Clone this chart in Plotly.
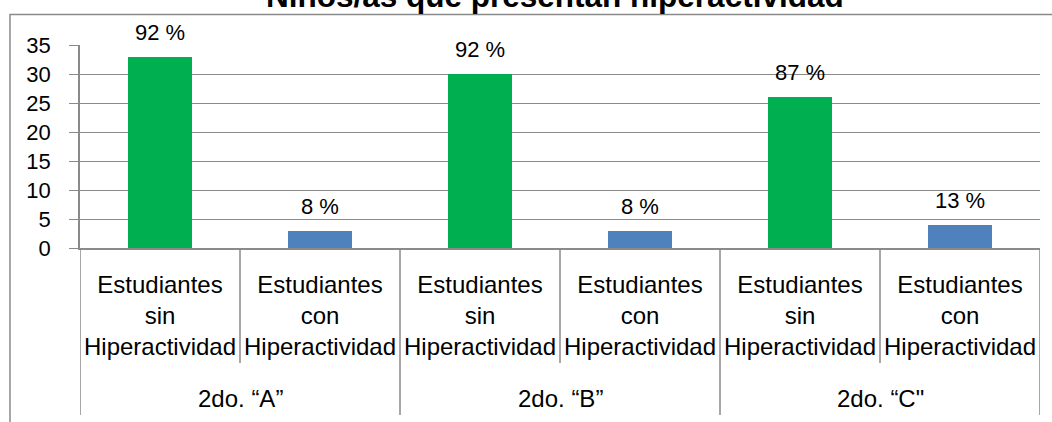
import plotly.graph_objects as go

# ---- data ----
groups = ["2do. \u201cA\u201d", "2do. \u201cB\u201d", "2do. \u201cC\""]
subcats = ["Estudiantes<br>sin<br>Hiperactividad", "Estudiantes<br>con<br>Hiperactividad"]
sin_values = [33, 30, 26]
con_values = [3, 3, 4]
sin_labels = ["92 %", "92 %", "87 %"]
con_labels = ["8 %", "8 %", "13 %"]
title_text = "Niños/as que presentan hiperactividad"
y_tickvals = [0, 5, 10, 15, 20, 25, 30, 35]

# ---- layout geometry ----
W, H = 1052, 422
L, R, T, B = 80, 12, 45, 174
PW, PH = W - L - R, H - T - B
FONT = "Liberation Sans, Arial, sans-serif"
GRID = "#8a8a8a"

def px_x(px):
    return (px - L) / PW

def px_y(py):
    return 1 - (py - T) / PH

n = len(groups)
x_sin = [2 * g for g in range(n)]
x_con = [2 * g + 1 for g in range(n)]
all_x = list(range(2 * n))
all_ticktext = [subcats[i % 2] for i in all_x]

fig = go.Figure()
fig.add_trace(go.Bar(x=x_sin, y=sin_values, width=0.4, marker=dict(color="#00B050", line=dict(width=0)),
                     showlegend=False, hoverinfo="skip"))
fig.add_trace(go.Bar(x=x_con, y=con_values, width=0.4, marker=dict(color="#4F81BD", line=dict(width=0)),
                     showlegend=False, hoverinfo="skip"))

annotations = []
for xs, vs, ls in [(x_sin, sin_values, sin_labels), (x_con, con_values, con_labels)]:
    for x, v, lab in zip(xs, vs, ls):
        annotations.append(dict(x=x, y=v, xref="x", yref="y", text=lab, showarrow=False,
                                yanchor="bottom", yshift=10,
                                font=dict(family=FONT, size=22, color="black")))

for g, name in enumerate(groups):
    annotations.append(dict(x=2 * g + 0.5, y=px_y(398), xref="x", yref="paper", text=name,
                            showarrow=False, yanchor="middle",
                            font=dict(family=FONT, size=24, color="black")))

annotations.append(dict(x=px_x(555), y=px_y(-4), xref="paper", yref="paper",
                        text="<b>" + title_text + "</b>", showarrow=False, yanchor="middle",
                        font=dict(family=FONT, size=31.5, color="black")))

shapes = []
# inner dividers
for g in range(n):
    shapes.append(dict(type="line", xref="x", yref="paper", x0=2 * g + 0.5, x1=2 * g + 0.5,
                       y0=px_y(248), y1=px_y(363), line=dict(color=GRID, width=1.5)))
# group dividers
for g in range(n + 1):
    shapes.append(dict(type="line", xref="x", yref="paper", x0=2 * g - 0.5, x1=2 * g - 0.5,
                       y0=px_y(248), y1=px_y(415), line=dict(color=GRID, width=1.5)))
# outer chart frame
shapes.append(dict(type="rect", xref="paper", yref="paper", x0=px_x(10), x1=px_x(1070),
                   y0=px_y(440), y1=px_y(14.5), line=dict(color=GRID, width=1.5),
                   fillcolor="rgba(0,0,0,0)"))

fig.update_layout(
    width=W, height=H,
    margin=dict(l=L, r=R, t=T, b=B),
    template="none",
    paper_bgcolor="white", plot_bgcolor="white",
    bargap=0,
    showlegend=False,
    annotations=annotations,
    shapes=shapes,
    font=dict(family=FONT, color="black"),
)
fig.update_xaxes(
    range=[-0.5, 2 * n - 0.5], tickmode="array", tickvals=all_x, ticktext=all_ticktext,
    showgrid=False, zeroline=False, showline=True, linecolor=GRID, linewidth=1.5,
    ticks="", ticklabelstandoff=14, tickfont=dict(family=FONT, size=24, color="black"),
    automargin=False, fixedrange=True,
)
fig.update_yaxes(
    range=[0, 35], tickmode="array", tickvals=y_tickvals,
    showgrid=True, gridcolor=GRID, gridwidth=1.4, zeroline=False,
    showline=True, linecolor=GRID, linewidth=1.5,
    ticks="outside", ticklen=9, tickcolor=GRID, tickwidth=1.4,
    ticklabelstandoff=14, tickfont=dict(family=FONT, size=22, color="black"),
    automargin=False, fixedrange=True,
)

fig.write_html("out.html", config={"displayModeBar": False},
               post_script="document.body.style.margin='0px';document.body.style.overflow='hidden';")
